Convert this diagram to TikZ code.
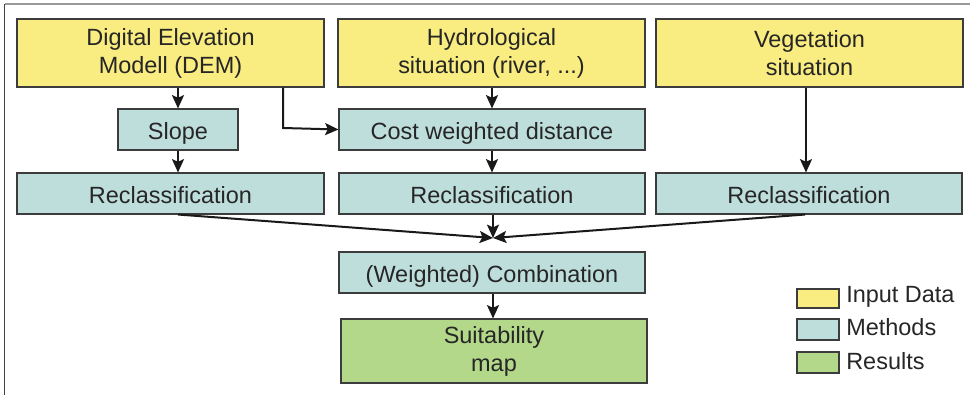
\documentclass[tikz,border=0pt]{standalone}
\usepackage{fontspec}
\setmainfont{Liberation Sans}
\usetikzlibrary{arrows.meta}
\definecolor{inputcol}{HTML}{F9EC80}
\definecolor{methodcol}{HTML}{BEDEDC}
\definecolor{resultcol}{HTML}{B3D88A}
\definecolor{edgecol}{HTML}{3C3C3C}
\tikzset{
  box/.style={draw=edgecol, line width=0.8pt, rectangle, align=center,
    inner sep=0pt, font=\fontsize{17.6}{21}\selectfont, text=black!85},
  inbox/.style={box, fill=inputcol, minimum width=230.25pt, minimum height=51pt},
  methbox/.style={box, fill=methodcol, minimum width=229.5pt, minimum height=30.75pt,
    text height=14.5pt, text depth=0pt},
  resbox/.style={box, fill=resultcol, minimum width=229.5pt, minimum height=48pt},
  legbox/.style={draw=edgecol, line width=0.8pt, minimum width=31.5pt, minimum height=15pt, inner sep=0pt},
  legtext/.style={anchor=west, inner sep=0pt, font=\fontsize{17.6}{21}\selectfont, text=black!85},
  flow/.style={draw=black!90, line width=1.5pt, -{Stealth[length=10pt,width=9pt,inset=2pt]}},
}
\begin{document}
\begin{tikzpicture}[x=0.75pt, y=-0.75pt]
  \useasboundingbox (0,0) rectangle (970,395);
  % frame, cut off on the right and at the bottom
  \draw[gray!80, line width=1pt] (970,4) -- (4.5,4);
  \draw[black!75, line width=1.2pt] (4.5,4) -- (4.5,395);

  % input data
  \node[inbox] (dem)   at (170.5,53) {Digital Elevation\\Modell (DEM)};
  \node[inbox] (hydro) at (491.5,53) {Hydrological\\situation (river, ...)};
  \node[inbox] (veg)   at (809.5,53) {Vegetation\\situation};

  % methods
  \node[methbox, minimum width=90pt] (slope) at (178,129.5) {Slope};
  \node[methbox] (cost)   at (492,129.5) {Cost weighted distance};
  \node[methbox, minimum width=230.25pt] (recla) at (170.5,193.5) {Reclassification};
  \node[methbox] (reclb)  at (492,193.5) {Reclassification};
  \node[methbox] (reclc)  at (809,193.5) {Reclassification};
  \node[methbox] (comb)   at (492,272.5) {(Weighted) Combination};

  % result
  \node[resbox] (suit) at (494,351) {Suitability\\map};

  % legend
  \node[legbox, fill=inputcol, minimum height=14.25pt] (leginput) at (818,298.5) {};
  \node[legbox, fill=methodcol, minimum height=15.75pt] (legmeth) at (818,329.5) {};
  \node[legbox, fill=resultcol, minimum height=15.75pt] (legres) at (818,362.5) {};
  \node[legtext] (leginputtxt) at (846,297) {Input Data};
  \node[legtext] (legmethtxt)  at (846,327) {Methods};
  \node[legtext] (legrestxt)   at (846,361) {Results};

  % connectors
  \coordinate (meet) at (493,238);
  \coordinate (bend) at (283,128);
  \draw[flow] (dem.south -| slope) -- (slope);
  \draw[flow] (slope) -- (recla.north -| slope);
  \draw[flow] (dem.south -| bend) -- (bend) -- (cost.west);
  \draw[flow] (hydro.south -| cost) -- (cost);
  \draw[flow] (cost) -- (reclb);
  \draw[flow] (veg.south -| 806,0) -- (reclc.north -| 806,0);
  \draw[flow] (recla.south -| slope) -- (meet);
  \draw[flow] (reclc.south -| 805,0) -- (meet);
  \draw[flow] (reclb.south -| meet) -- (meet);
  \draw[flow] (comb.south -| meet) -- (suit.north -| meet);
\end{tikzpicture}
\end{document}
